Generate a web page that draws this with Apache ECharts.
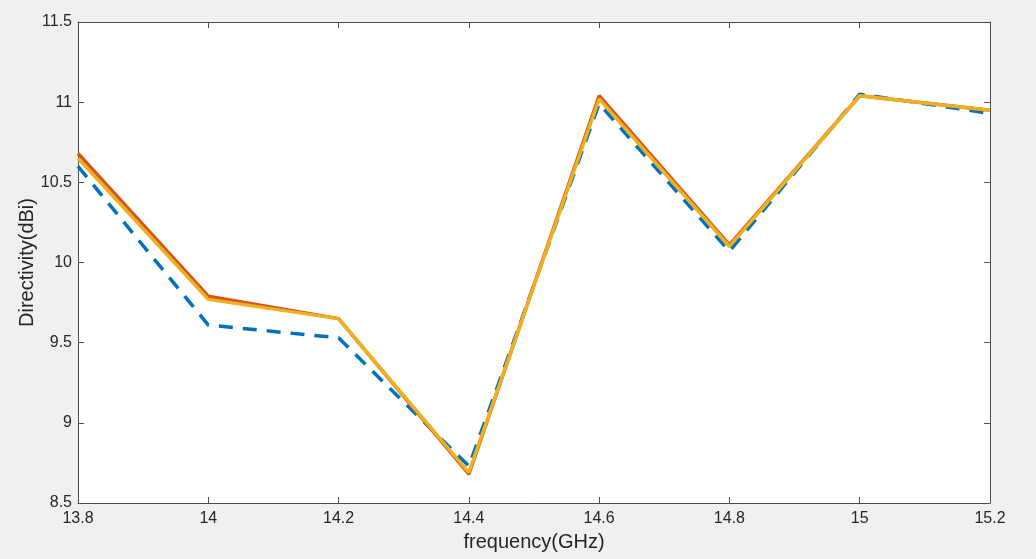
<!DOCTYPE html>
<html>
<head>
<meta charset="utf-8">
<script src="https://cdn.jsdelivr.net/npm/echarts@6/dist/echarts.min.js"></script>
<style>
  html,body{margin:0;padding:0;background:#f0f0f0;}
  #chart{width:1036px;height:559px;}
</style>
</head>
<body>
<div id="chart"></div>
<script>
// frequency points (GHz)
var freq = [13.8, 14.0, 14.2, 14.4, 14.6, 14.8, 15.0, 15.2]
// directivity values
var blueDash = [10.60, 9.61, 9.53, 8.73, 10.99, 10.07, 11.05, 10.93]
var redLine = [10.68, 9.79, 9.65, 8.68, 11.04, 10.11, 11.04, 10.95]
var yellowLine = [10.65, 9.77, 9.65, 8.69, 11.02, 10.10, 11.04, 10.95]

function pairs(ys){
  return freq.map(function(x,i){ return [x, ys[i]] })
}

var chart = echarts.init(document.getElementById('chart'))

var axisColor = '#4d4d4d'
var font = 'Liberation Sans, Arial, sans-serif'
var fmt = function(v){ return String(Math.round(v*10)/10) }

chart.setOption({
  backgroundColor:'#f0f0f0',
  animation:false,
  grid:{ left:78, right:46, top:22, bottom:56, show:true, backgroundColor:'#ffffff', borderWidth:0 },
  xAxis:[
    {
      type:'value', min:13.8, max:15.2, interval:0.2, position:'bottom',
      name:'frequency(GHz)', nameLocation:'middle', nameGap:29, nameMoveOverlap:false,
      nameTextStyle:{ color:'#262626', fontSize:20, fontFamily:font },
      axisLine:{ show:true, lineStyle:{ color:axisColor, width:1 } },
      axisTick:{ show:true, inside:true, length:6, lineStyle:{ color:axisColor } },
      axisLabel:{ show:true, margin:8, formatter:fmt, color:'#262626', fontSize:16, fontFamily:font },
      splitLine:{ show:false }
    },
    {
      type:'value', min:13.8, max:15.2, interval:0.2, position:'top',
      axisLine:{ show:true, lineStyle:{ color:axisColor, width:1 } },
      axisTick:{ show:true, inside:true, length:6, lineStyle:{ color:axisColor } },
      axisLabel:{ show:false }, splitLine:{ show:false }
    }
  ],
  yAxis:[
    {
      type:'value', min:8.5, max:11.5, interval:0.5, position:'left',
      name:'Directivity(dBi)', nameLocation:'middle', nameGap:41, nameMoveOverlap:false,
      nameTextStyle:{ color:'#262626', fontSize:20, fontFamily:font },
      axisLine:{ show:true, lineStyle:{ color:axisColor, width:1 } },
      axisTick:{ show:true, inside:true, length:6, lineStyle:{ color:axisColor } },
      axisLabel:{ show:true, margin:6, formatter:fmt, color:'#262626', fontSize:16, fontFamily:font },
      splitLine:{ show:false }
    },
    {
      type:'value', min:8.5, max:11.5, interval:0.5, position:'right',
      axisLine:{ show:true, lineStyle:{ color:axisColor, width:1 } },
      axisTick:{ show:true, inside:true, length:6, lineStyle:{ color:axisColor } },
      axisLabel:{ show:false }, splitLine:{ show:false }
    }
  ],
  series:[
    {
      type:'line', data:pairs(blueDash), xAxisIndex:0, yAxisIndex:0,
      symbol:'none', lineStyle:{ color:'#0072bd', width:3.5, type:[14,10] }
    },
    {
      type:'line', data:pairs(redLine), xAxisIndex:0, yAxisIndex:0,
      symbol:'none', lineStyle:{ color:'#d95319', width:3.5 }
    },
    {
      type:'line', data:pairs(yellowLine), xAxisIndex:0, yAxisIndex:0,
      symbol:'none', lineStyle:{ color:'#edb120', width:3.5 }
    }
  ]
})
</script>
</body>
</html>
